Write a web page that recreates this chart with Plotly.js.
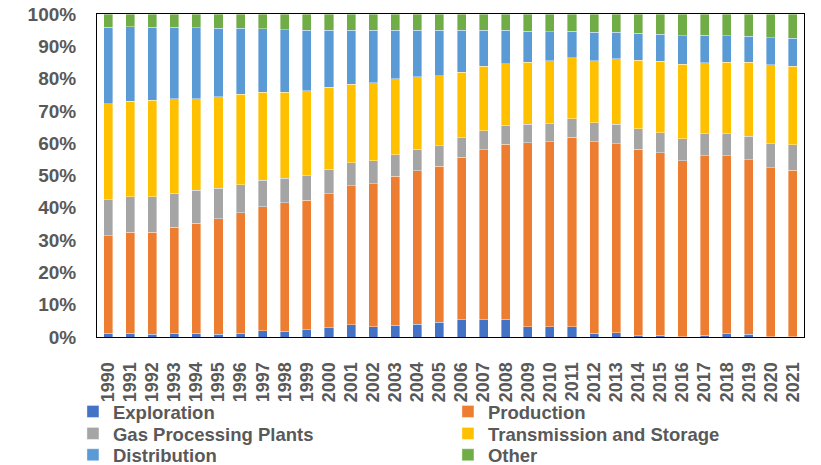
<!DOCTYPE html>
<html>
<head>
<meta charset="utf-8">
<script src="https://cdn.plot.ly/plotly-3.0.1.min.js"></script>
<style>
  html, body { margin: 0; padding: 0; background: #fff; }
  #chart { width: 821px; height: 465px; }
</style>
</head>
<body>
<div id="chart"></div>
<script>
// Share of methane emissions by natural gas system segment (%), 1990-2021
const years = ['1990','1991','1992','1993','1994','1995','1996','1997','1998','1999','2000',
  '2001','2002','2003','2004','2005','2006','2007','2008','2009','2010',
  '2011','2012','2013','2014','2015','2016','2017','2018','2019','2020','2021'];

const exploration = [1.2,1.2,0.8,1.2,1.2,0.9,1.2,2.0,1.8,2.2,2.8,
  3.8,3.1,3.6,4.0,4.6,5.3,5.3,5.5,3.2,3.2,
  3.2,1.2,1.3,0.4,0.5,0.1,0.5,1.0,0.8,0.1,0.1];
const production = [30.2,31.3,31.7,32.8,34.0,35.7,37.3,38.3,39.7,40.1,41.5,
  43.1,44.3,46.1,47.5,48.2,50.3,52.7,54.2,56.9,57.2,
  58.6,59.3,58.5,57.8,56.5,54.5,55.6,55.1,54.1,52.3,51.6];
const gasProcessing = [11.1,10.9,11.0,10.5,10.3,9.4,8.7,8.3,7.6,7.6,7.6,
  7.0,7.2,6.8,6.6,6.4,6.1,5.8,5.8,5.7,5.7,
  5.8,5.8,6.1,6.3,6.2,6.8,6.8,6.9,7.3,7.4,7.8];
const transmission = [29.7,29.6,29.8,29.2,28.2,28.4,28.0,27.1,26.6,26.4,25.4,
  24.3,24.1,23.4,22.4,21.7,20.3,20.1,19.1,19.2,19.4,
  18.8,19.3,20.3,21.2,22.2,23.1,22.0,22.1,22.8,24.5,24.4];
const distribution = [23.7,23.1,22.6,22.2,22.1,21.2,20.4,19.8,19.4,18.6,17.6,
  16.8,16.3,15.1,14.4,14.0,12.9,11.0,10.3,9.7,9.0,
  8.2,8.7,8.1,8.3,8.3,8.7,8.5,8.1,8.1,8.4,8.6];
const other = [4.1,3.9,4.1,4.1,4.2,4.4,4.4,4.5,4.9,5.1,5.1,
  5.0,5.0,5.0,5.1,5.1,5.1,5.1,5.1,5.3,5.5,
  5.4,5.7,5.7,6.0,6.3,6.8,6.6,6.8,6.9,7.3,7.5];

const seriesNames = ['Exploration','Production','Gas Processing Plants',
  'Transmission and Storage','Distribution','Other'];
const seriesValues = [exploration, production, gasProcessing, transmission, distribution, other];
const seriesColors = ['#4472C4','#ED7D31','#A5A5A5','#FFC000','#5B9BD5','#70AD47'];

const percentTicks = [0,10,20,30,40,50,60,70,80,90,100];
const percentLabels = ['0%','10%','20%','30%','40%','50%','60%','70%','80%','90%','100%'];

const textColor = '#595959';
const family = 'Arial, "Liberation Sans", sans-serif';
const boldFont = (size) => ({ family: family, size: size, color: textColor, weight: 'bold' });

// two entries per legend row: rows are separate legends so their spacing can be set
const legendIds = ['legend','legend','legend2','legend2','legend3','legend3'];

const traces = seriesNames.map((name, i) => ({
  type: 'bar',
  name: name,
  x: years,
  y: seriesValues[i],
  legend: legendIds[i],
  marker: { color: seriesColors[i], line: { color: 'rgba(255,255,255,0.55)', width: 0.7 } },
  hoverinfo: 'x+y+name'
}));

const legendRow = (y) => ({
  orientation: 'h',
  traceorder: 'normal',
  x: -0.034,
  xanchor: 'left',
  y: y,
  yanchor: 'middle',
  entrywidth: 330,
  font: boldFont(18.5),
  bgcolor: 'rgba(0,0,0,0)'
});

const layout = {
  width: 821,
  height: 465,
  margin: { l: 97, r: 17, t: 14, b: 128, autoexpand: false },
  paper_bgcolor: '#ffffff',
  plot_bgcolor: '#ffffff',
  barmode: 'stack',
  barnorm: 'percent',
  bargap: 0.59,
  font: boldFont(18),
  showlegend: true,
  legend: legendRow(-0.232),
  legend2: legendRow(-0.300),
  legend3: legendRow(-0.366),
  xaxis: {
    type: 'category',
    automargin: false,
    tickmode: 'linear',
    tick0: 0,
    dtick: 1,
    tickangle: -90,
    tickfont: boldFont(18),
    showline: true,
    linecolor: '#000000',
    linewidth: 1,
    mirror: true,
    showgrid: false,
    ticks: '',
    ticklabelstandoff: 17,
    fixedrange: true
  },
  yaxis: {
    automargin: false,
    range: [0, 100],
    tickmode: 'array',
    tickvals: percentTicks,
    ticktext: percentLabels,
    tickfont: boldFont(19),
    showline: true,
    linecolor: '#000000',
    linewidth: 1,
    mirror: true,
    showgrid: false,
    zeroline: false,
    ticks: '',
    ticklabelstandoff: 16,
    fixedrange: true
  }
};

Plotly.newPlot('chart', traces, layout, { displayModeBar: false, staticPlot: true });
</script>
</body>
</html>
